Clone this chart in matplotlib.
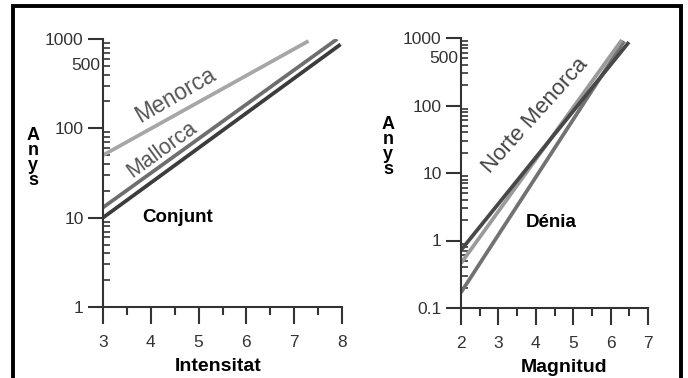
import matplotlib
matplotlib.use('Agg')
import matplotlib.pyplot as plt
from matplotlib.patches import Rectangle
from matplotlib.ticker import FixedLocator, NullFormatter

plt.rcParams['font.family'] = ['Liberation Sans', 'DejaVu Sans']

# left panel: return period (years) vs intensity
int_menorca = [3, 7.3]
anys_menorca = [50, 950]
int_mallorca = [3, 7.9]
anys_mallorca = [13, 1000]
int_conjunt = [3, 7.97]
anys_conjunt = [10, 870]

# right panel: return period (years) vs magnitude
mag_norte = [2, 6.49]
anys_norte = [0.72, 870]
mag_mid = [2, 6.3]
anys_mid = [0.46, 935]
mag_denia = [2, 6.36]
anys_denia = [0.17, 900]

left_ticks = [1, 10, 100, 1000]
left_ticklabels = ['1', '10', '100', '1000']
right_ticks = [0.1, 1, 10, 100, 1000]
right_ticklabels = ['0.1', '1', '10', '100', '1000']

W, H = 688, 378
fig = plt.figure(figsize=(W / 100, H / 100), dpi=100)

# black frame around the picture
fig.patches.append(Rectangle((13 / W, -0.05), (681 - 13) / W, 1.05 - 6 / H,
                             transform=fig.transFigure, fill=False,
                             edgecolor='black', linewidth=2.8))

ax1 = fig.add_axes([103 / W, 1 - 307 / H, 239 / W, 268 / H])
ax2 = fig.add_axes([461 / W, 1 - 308 / H, 187 / W, 270 / H])

ax1.plot(int_menorca, anys_menorca, color='#a6a6a6', lw=2.7, solid_capstyle='butt')
ax1.plot(int_mallorca, anys_mallorca, color='#6e6e6e', lw=2.7, solid_capstyle='butt')
ax1.plot(int_conjunt, anys_conjunt, color='#3c3c3c', lw=2.7, solid_capstyle='butt')

ax2.plot(mag_denia, anys_denia, color='#727272', lw=2.7, solid_capstyle='butt')
ax2.plot(mag_mid, anys_mid, color='#9a9a9a', lw=2.7, solid_capstyle='butt')
ax2.plot(mag_norte, anys_norte, color='#484848', lw=2.7, solid_capstyle='butt')

for ax, xlim, ylim, yt, ytl, xlabel, xlab_x in [
        (ax1, (3, 8), (1, 1000), left_ticks, left_ticklabels, 'Intensitat', 0.48),
        (ax2, (2, 7), (0.1, 1000), right_ticks, right_ticklabels, 'Magnitud', 0.55)]:
    ax.set_yscale('log')
    ax.set_xlim(*xlim)
    ax.set_ylim(*ylim)
    ax.set_facecolor('none')
    for s in ['top', 'right']:
        ax.spines[s].set_visible(False)
    for s in ['left', 'bottom']:
        ax.spines[s].set_linewidth(1.5)
        ax.spines[s].set_color('#333333')
    ax.set_xticks(range(xlim[0], xlim[1] + 1))
    ax.xaxis.set_minor_locator(FixedLocator([v + 0.5 for v in range(xlim[0], xlim[1])]))
    ax.tick_params(axis='x', which='major', direction='out', length=12, width=1.5,
                   color='#333333', labelsize=12.5, labelcolor='#333333', pad=8)
    ax.tick_params(axis='x', which='minor', direction='out', length=6, width=1.5,
                   color='#333333')
    ax.set_yticks(yt)
    ax.set_yticklabels(ytl)
    ax.yaxis.set_minor_formatter(NullFormatter())
    ax.tick_params(axis='y', which='major', direction='out', length=11, width=1.5,
                   color='#333333', labelsize=12.5, labelcolor='#333333', pad=3)
    ax.tick_params(axis='y', which='minor', direction='in', length=5, width=1.2,
                   color='#333333')
    ax.text(-0.012, 500, '500', transform=ax.get_yaxis_transform(), ha='right',
            va='center', fontsize=12.5, color='#333333')
    ax.set_xlabel(xlabel, fontsize=14, fontweight='bold')
    ax.xaxis.set_label_coords(xlab_x, -0.19)

ax1.text(4.51, 234, 'Menorca', rotation=30, ha='center', va='center',
         rotation_mode='anchor', fontsize=16.5, color='#555555')
ax1.text(4.24, 57, 'Mallorca', rotation=36, ha='center', va='center',
         rotation_mode='anchor', fontsize=15.5, color='#555555')
ax1.text(4.57, 10.1, 'Conjunt', ha='center', va='center', fontsize=13.5,
         fontweight='bold')

ax2.text(3.98, 70, 'Norte Menorca', rotation=48, ha='center', va='center',
         rotation_mode='anchor', fontsize=16, color='#444444')
ax2.text(4.41, 1.82, 'Dénia', ha='center', va='center', fontsize=13.5,
         fontweight='bold')

fig.text(33 / W, 1 - 158 / H, 'A\nn\ny\ns', ha='center', va='center',
         fontsize=13, fontweight='bold', linespacing=0.85)
fig.text(388 / W, 1 - 147 / H, 'A\nn\ny\ns', ha='center', va='center',
         fontsize=13, fontweight='bold', linespacing=0.85)

fig.savefig('out.png', dpi=100)
